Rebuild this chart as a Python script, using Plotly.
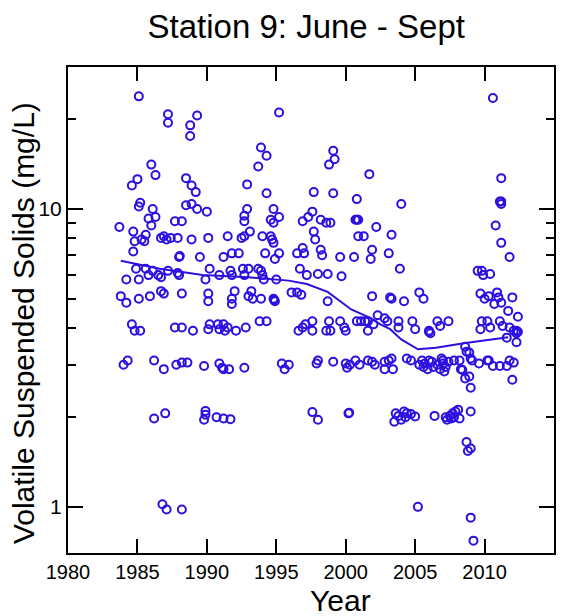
import plotly.graph_objects as go

# ---- scatter data (year, VSS mg/L) ----
years = [
    1985.1, 1987.2, 1987.2, 1989.3, 1988.8, 1988.8, 1986.0, 1986.3, 1985.0, 1984.6,
    1988.5, 1988.9, 1989.2, 1985.2, 1985.1, 1986.1, 1988.5, 1988.9, 1989.3, 1985.8,
    1986.3, 1986.0, 1983.7, 1984.7, 1987.7, 1988.2, 1985.6, 1984.8, 1985.3, 1985.5,
    1986.7, 1986.9, 1987.1, 1987.4, 1987.9, 1988.9, 1984.7, 1988.0, 1988.05, 1989.5,
    1984.9, 1984.2, 1985.1, 1985.6, 1986.1, 1985.8, 1986.5, 1986.7, 1987.2, 1987.9,
    1988.0, 1983.8, 1984.2, 1985.1, 1985.9, 1986.7, 1986.9, 1988.2, 1984.6, 1984.8,
    1985.2, 1987.7, 1988.2, 1989.0, 1984.0, 1984.3, 1986.2, 1986.9, 1987.8, 1988.2,
    1988.6, 1986.2, 1987.0, 1986.8, 1987.1, 1988.2,
    1995.2, 1993.9, 1994.3, 1993.7, 1992.9, 1994.3, 1990.0, 1992.9, 1992.7, 1992.7,
    1994.8, 1995.2, 1994.6, 1994.8, 1993.1, 1990.1, 1991.5, 1992.5, 1992.7, 1994.0,
    1994.6, 1994.7, 1994.8, 1991.2, 1991.8, 1992.3, 1994.2, 1994.9, 1995.2, 1990.2,
    1989.9, 1990.9, 1991.7, 1991.8, 1992.6, 1993.0, 1992.7, 1993.7, 1993.9, 1994.0,
    1994.1, 1995.0, 1990.1, 1990.1, 1992.0, 1991.8, 1991.8, 1993.2, 1993.0, 1993.3,
    1993.9, 1994.8, 1994.9, 1994.85, 1990.2, 1990.1, 1990.8, 1990.9, 1991.2, 1991.3,
    1991.5, 1992.1, 1992.8, 1993.8, 1994.3, 1989.8, 1990.9, 1991.1, 1991.2, 1991.6,
    1992.7, 1995.4, 1995.6, 1989.9, 1989.9, 1989.8, 1990.7, 1991.2, 1991.7,
    1999.1, 1999.2, 1998.8, 2001.7, 1997.7, 1999.1, 2000.8, 1997.6, 1997.3, 1996.9,
    1998.2, 1998.6, 1998.9, 2000.7, 2000.8, 2000.9, 1997.7, 1997.8, 2000.9, 2001.3,
    2002.2, 1996.9, 1996.5, 1997.0, 1998.2, 1998.3, 1999.6, 2000.6, 2001.8, 2001.9,
    1996.7, 1997.2, 1998.0, 1998.7, 1999.7, 1996.1, 1996.5, 1996.8, 1998.7, 2001.9,
    1996.6, 1996.9, 1997.1, 1997.6, 1997.6, 1998.8, 1998.6, 1998.9, 1999.6, 1999.9,
    2000.0, 2000.8, 2001.1, 2001.4, 2001.6, 2001.6, 2002.0, 1995.9, 1997.9, 1998.0,
    1999.1, 2000.0, 2000.1, 2000.3, 2000.7, 2001.0, 2001.6, 2001.9, 1997.6, 1998.0,
    2000.2, 2000.25,
    2004.0, 2003.3, 2003.1, 2003.9, 2003.2, 2003.3, 2004.2, 2005.3, 2005.6, 2002.3,
    2002.8, 2003.0, 2003.8, 2003.8, 2004.8, 2005.0, 2006.0, 2006.1, 2006.0, 2006.6,
    2006.8, 2007.4, 2002.1, 2002.8, 2002.8, 2003.1, 2003.3, 2003.4, 2004.4, 2004.7,
    2005.3, 2005.5, 2005.7, 2005.9, 2006.0, 2006.2, 2006.6, 2006.8, 2007.0, 2007.0,
    2007.2, 2007.4, 2005.6, 2006.3, 2006.9, 2007.1, 2008.4, 2003.5, 2003.6, 2003.8,
    2004.0, 2004.2, 2004.3, 2004.4, 2004.7, 2005.0, 2006.4, 2007.2, 2007.3, 2005.2,
    2010.6, 2011.2, 2011.1, 2011.2, 2011.2, 2010.8, 2011.2, 2011.8, 2009.5, 2009.8,
    2009.9, 2010.4, 2009.7, 2010.0, 2010.3, 2010.9, 2011.0, 2010.7, 2011.2, 2012.0,
    2009.8, 2009.7, 2010.2, 2010.4, 2011.1, 2011.3, 2011.7, 2011.8, 2012.1, 2012.4,
    2012.3, 2012.4, 2012.3, 2011.6, 2012.3, 2007.8, 2008.2, 2008.3, 2008.6, 2008.7,
    2009.0, 2008.9, 2009.1, 2009.6, 2010.2, 2010.3, 2010.6, 2011.1, 2011.6, 2011.8,
    2012.1, 2008.6, 2008.9, 2009.0, 2012.0, 2007.5, 2007.7, 2007.9, 2008.1, 2008.2,
    2007.8, 2007.6, 2009.0, 2008.7, 2008.8, 2009.0, 2009.0, 2009.2,
]

vss = [
    23.9, 20.8, 19.5, 20.6, 19.1, 17.6, 14.1, 13.0, 12.6, 12.0,
    12.7, 12.0, 11.4, 10.5, 10.2, 10.0, 10.3, 10.4, 10.0, 9.3,
    9.4, 8.8, 8.7, 8.4, 9.1, 9.1, 8.2, 7.8, 7.9, 7.8,
    8.0, 8.1, 7.9, 8.0, 8.0, 7.9, 7.2, 6.9, 6.95, 6.9,
    6.3, 5.8, 5.8, 6.3, 6.2, 6.0, 6.0, 5.9, 6.2, 6.1,
    6.0, 5.1, 4.85, 5.0, 5.1, 5.3, 5.2, 5.2, 4.1, 3.9,
    3.9, 4.0, 4.0, 3.9, 3.0, 3.1, 3.1, 2.9, 3.0, 3.05,
    3.05, 1.98, 2.06, 1.02, 0.98, 0.98,
    21.1, 16.1, 15.1, 13.9, 12.1, 11.3, 9.8, 10.0, 9.5, 9.1,
    10.0, 9.4, 9.2, 9.0, 8.4, 8.0, 8.1, 8.0, 8.1, 8.1,
    8.1, 7.9, 7.7, 6.9, 7.1, 7.1, 7.1, 6.8, 7.1, 6.3,
    5.8, 6.0, 6.2, 6.0, 6.3, 6.3, 6.0, 6.3, 6.2, 6.0,
    5.8, 5.8, 5.2, 4.9, 5.3, 5.0, 4.8, 5.3, 5.1, 5.0,
    5.0, 5.0, 4.9, 4.95, 4.1, 3.95, 4.1, 3.95, 4.1, 3.9,
    4.0, 3.9, 4.0, 4.2, 4.2, 2.97, 3.03, 2.93, 2.9, 2.9,
    2.93, 3.03, 2.9, 2.1, 2.04, 1.96, 2.0, 1.98, 1.97,
    15.7, 14.7, 14.1, 13.1, 11.4, 11.3, 10.8, 9.8, 9.4, 9.1,
    9.2, 9.0, 9.0, 9.2, 9.2, 9.2, 8.4, 7.9, 8.1, 8.1,
    8.7, 7.4, 7.1, 7.1, 7.3, 7.0, 6.9, 6.9, 6.8, 7.3,
    6.3, 6.0, 6.05, 6.05, 5.95, 5.25, 5.25, 5.15, 4.9, 5.1,
    3.9, 4.0, 4.1, 4.2, 3.9, 4.2, 3.9, 3.9, 4.2, 4.0,
    3.9, 4.2, 4.2, 4.2, 4.2, 3.9, 4.1, 3.0, 3.03, 3.1,
    3.07, 3.03, 2.93, 3.0, 3.1, 3.0, 3.1, 3.07, 2.08, 1.96,
    2.06, 2.07,
    10.4, 8.2, 7.1, 6.3, 5.05, 5.0, 4.9, 5.25, 5.0, 4.4,
    4.3, 4.2, 4.2, 4.0, 4.2, 3.95, 3.9, 3.83, 3.87, 4.2,
    4.05, 4.2, 3.0, 3.07, 2.9, 3.1, 3.15, 2.9, 3.15, 3.1,
    3.0, 3.1, 3.03, 2.9, 3.1, 3.07, 3.0, 2.9, 3.1, 3.03,
    2.95, 3.07, 2.95, 2.95, 3.15, 2.85, 2.88, 1.93, 2.06, 2.02,
    1.96, 2.09, 2.0, 2.06, 2.05, 2.01, 2.02, 2.0, 1.96, 1.0,
    23.6, 12.7, 10.6, 10.6, 10.4, 8.8, 7.7, 6.9, 6.2, 6.2,
    6.0, 6.05, 5.2, 5.0, 5.1, 5.25, 5.05, 4.8, 4.85, 5.05,
    4.2, 3.95, 4.2, 4.0, 4.2, 4.05, 4.55, 4.0, 3.9, 4.35,
    3.9, 3.87, 3.83, 3.7, 3.57, 3.1, 3.1, 2.9, 3.45, 3.32,
    3.15, 3.3, 3.1, 3.03, 3.1, 3.1, 2.97, 2.97, 2.97, 3.1,
    3.05, 2.7, 2.74, 2.51, 2.67, 2.02, 2.06, 2.09, 2.12, 1.98,
    2.0, 1.98, 2.09, 1.65, 1.54, 1.57, 0.92, 0.77,
]

# ---- smoothed trend line ----
trend_years = [1983.8, 1986.6, 1989.7, 1993.0, 1995.9, 1997.2, 1998.7, 2000.4,
               2001.8, 2002.5, 2003.2, 2004.0, 2005.2, 2006.5, 2008.5, 2010.0, 2011.7]
trend_vals = [6.7, 6.3, 6.0, 5.9, 5.75, 5.6, 5.27, 4.6,
              4.3, 4.1, 3.95, 3.65, 3.38, 3.42, 3.54, 3.62, 3.71]

x_ticks = [1980, 1985, 1990, 1995, 2000, 2005, 2010, 2015]
y_ticks = [1, 10]
y_minor = [2, 3, 4, 5, 6, 7, 8, 9, 20]

BLUE = "#2b10e0"
NARROW = "Liberation Sans Narrow, Arial Narrow, sans-serif"
SANS = "Liberation Sans, Arial, sans-serif"

fig = go.Figure()
fig.add_trace(go.Scatter(
    x=years, y=vss, mode="markers",
    marker=dict(symbol="circle-open", size=8, color=BLUE, line=dict(width=2, color=BLUE)),
    hoverinfo="skip",
))
fig.add_trace(go.Scatter(
    x=trend_years, y=trend_vals, mode="lines",
    line=dict(color=BLUE, width=2),
    hoverinfo="skip",
))

fig.update_layout(
    template="none",
    width=567, height=608,
    margin=dict(l=60, r=21, t=59, b=63, autoexpand=False),
    plot_bgcolor="white", paper_bgcolor="white",
    showlegend=False,
    title=dict(text="Station 9: June - Sept", x=0.526, xanchor="center",
               y=0.969, yanchor="middle", yref="container",
               font=dict(family=SANS, size=33, color="black")),
    xaxis=dict(
        range=[1980, 2015], tickvals=x_ticks, ticks="inside", ticklen=14, tickwidth=2,
        tickcolor="black", showline=True, linewidth=2, linecolor="black", mirror="allticks",
        showgrid=False, zeroline=False, automargin=False,
        tickfont=dict(family=NARROW, size=20, color="black"),
    ),
    yaxis=dict(
        type="log", range=[-0.155, 1.477], tickvals=y_ticks, ticktext=["1", "10"],
        ticks="inside", ticklen=15, tickwidth=2, tickcolor="black",
        showline=True, linewidth=2, linecolor="black", mirror="allticks",
        showgrid=False, zeroline=False, automargin=False,
        tickfont=dict(family=NARROW, size=21, color="black"),
        minor=dict(tickvals=y_minor, ticks="inside", ticklen=8, tickwidth=2,
                   tickcolor="black", showgrid=False),
    ),
    annotations=[
        dict(text="Volatile Suspended Solids (mg/L)", textangle=-90,
             xref="paper", yref="paper", x=-0.0926, y=0.473,
             xanchor="center", yanchor="middle", showarrow=False,
             font=dict(family=SANS, size=30, color="black")),
        dict(text="Year", xref="paper", yref="paper", x=0.56, y=-0.097,
             xanchor="center", yanchor="middle", showarrow=False,
             font=dict(family=SANS, size=30, color="black")),
    ],
)

fig.write_html("out.html")
